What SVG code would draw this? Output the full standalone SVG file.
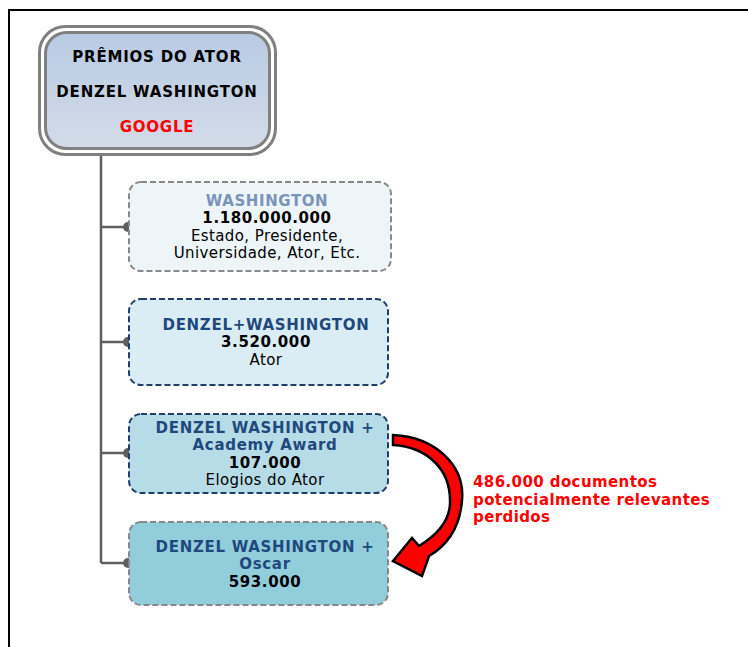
<svg xmlns="http://www.w3.org/2000/svg" width="748" height="647" viewBox="0 0 748 647">
<defs>
<linearGradient id="gTop" x1="0" y1="0" x2="0" y2="1">
<stop offset="0" stop-color="#b8cbe4"/>
<stop offset="1" stop-color="#d3dbe7"/>
</linearGradient>
</defs>
<style>
text{font-family:"DejaVu Sans","Liberation Sans",sans-serif;font-size:15px;letter-spacing:0.4px;text-anchor:middle;fill:#000}
.b{font-weight:bold;letter-spacing:0.6px}
.hdr{font-weight:bold;letter-spacing:0.8px}
.navy{fill:#1f497d;font-weight:bold;letter-spacing:0.7px}
.red{fill:#ff0000;font-weight:bold;text-anchor:start;letter-spacing:0.4px}
.conn{stroke:#5f5f5f;stroke-width:2.5;fill:none}
.dot{fill:#5f5f5f}
.gray{stroke:#888;stroke-width:2;stroke-dasharray:6 3}
.blue{stroke:#1f3f6a;stroke-width:2;stroke-dasharray:6 3}
</style>
<path d="M9,647 V10 H748" fill="none" stroke="#000" stroke-width="2"/>
<g id="connectors">
<path class="conn" d="M101,155 V563 M101,227 H128 M101,342 H128 M101,453 H128 M101,563 H128"/>
<circle class="dot" cx="128" cy="227" r="5"/>
<circle class="dot" cx="128" cy="342" r="5"/>
<circle class="dot" cx="128" cy="453" r="5"/>
<circle class="dot" cx="128" cy="563" r="5"/>
</g>
<g id="root">
<rect x="39.5" y="26.5" width="236" height="128" rx="26" fill="#fff" stroke="#808080" stroke-width="3"/>
<rect x="45.5" y="32.5" width="224" height="116" rx="21" fill="url(#gTop)" stroke="#808080" stroke-width="3"/>
<text x="157" y="62" class="hdr">PRÊMIOS DO ATOR</text>
<text x="157" y="97" class="hdr">DENZEL WASHINGTON</text>
<text x="157" y="132" class="hdr" style="fill:#ff0000">GOOGLE</text>
</g>
<g id="n1">
<rect x="129" y="182" width="262" height="89" rx="12" fill="#eef5f9" class="gray"/>
<text x="267" y="206" class="b" style="fill:#7a93b8">WASHINGTON</text>
<text x="267" y="223" class="b">1.180.000.000</text>
<text x="267" y="241">Estado, Presidente,</text>
<text x="267" y="258">Universidade, Ator, Etc.</text>
</g>
<g id="n2">
<rect x="129" y="299" width="259" height="86" rx="12" fill="#daedf4" class="blue"/>
<text x="266" y="330" class="navy">DENZEL+WASHINGTON</text>
<text x="266" y="347" class="b">3.520.000</text>
<text x="266" y="365">Ator</text>
</g>
<g id="n3">
<rect x="129" y="414" width="259" height="79" rx="12" fill="#b6dce7" class="blue"/>
<text x="265" y="433" class="navy">DENZEL WASHINGTON +</text>
<text x="265" y="450" class="navy">Academy Award</text>
<text x="265" y="468" class="b">107.000</text>
<text x="265" y="485">Elogios do Ator</text>
</g>
<g id="n4">
<rect x="129" y="522" width="259" height="83" rx="12" fill="#92cddc" class="gray"/>
<text x="265" y="552" class="navy">DENZEL WASHINGTON +</text>
<text x="265" y="569" class="navy">Oscar</text>
<text x="265" y="587" class="b">593.000</text>
</g>
<g id="arrow">
<path d="M393,435 C435,437 465,465 462,500 C460,528 446,546 429,556 L422,576 L393,561 L412,538 L419,546 C437,535 451,520 450,500 C450,470 428,447 393,445 Z" fill="#ff0000" stroke="#000" stroke-width="2.5" stroke-linejoin="miter"/>
</g>
<g id="label">
<text x="473" y="487" class="red">486.000 documentos</text>
<text x="473" y="505" class="red">potencialmente relevantes</text>
<text x="473" y="522" class="red">perdidos</text>
</g>
</svg>
